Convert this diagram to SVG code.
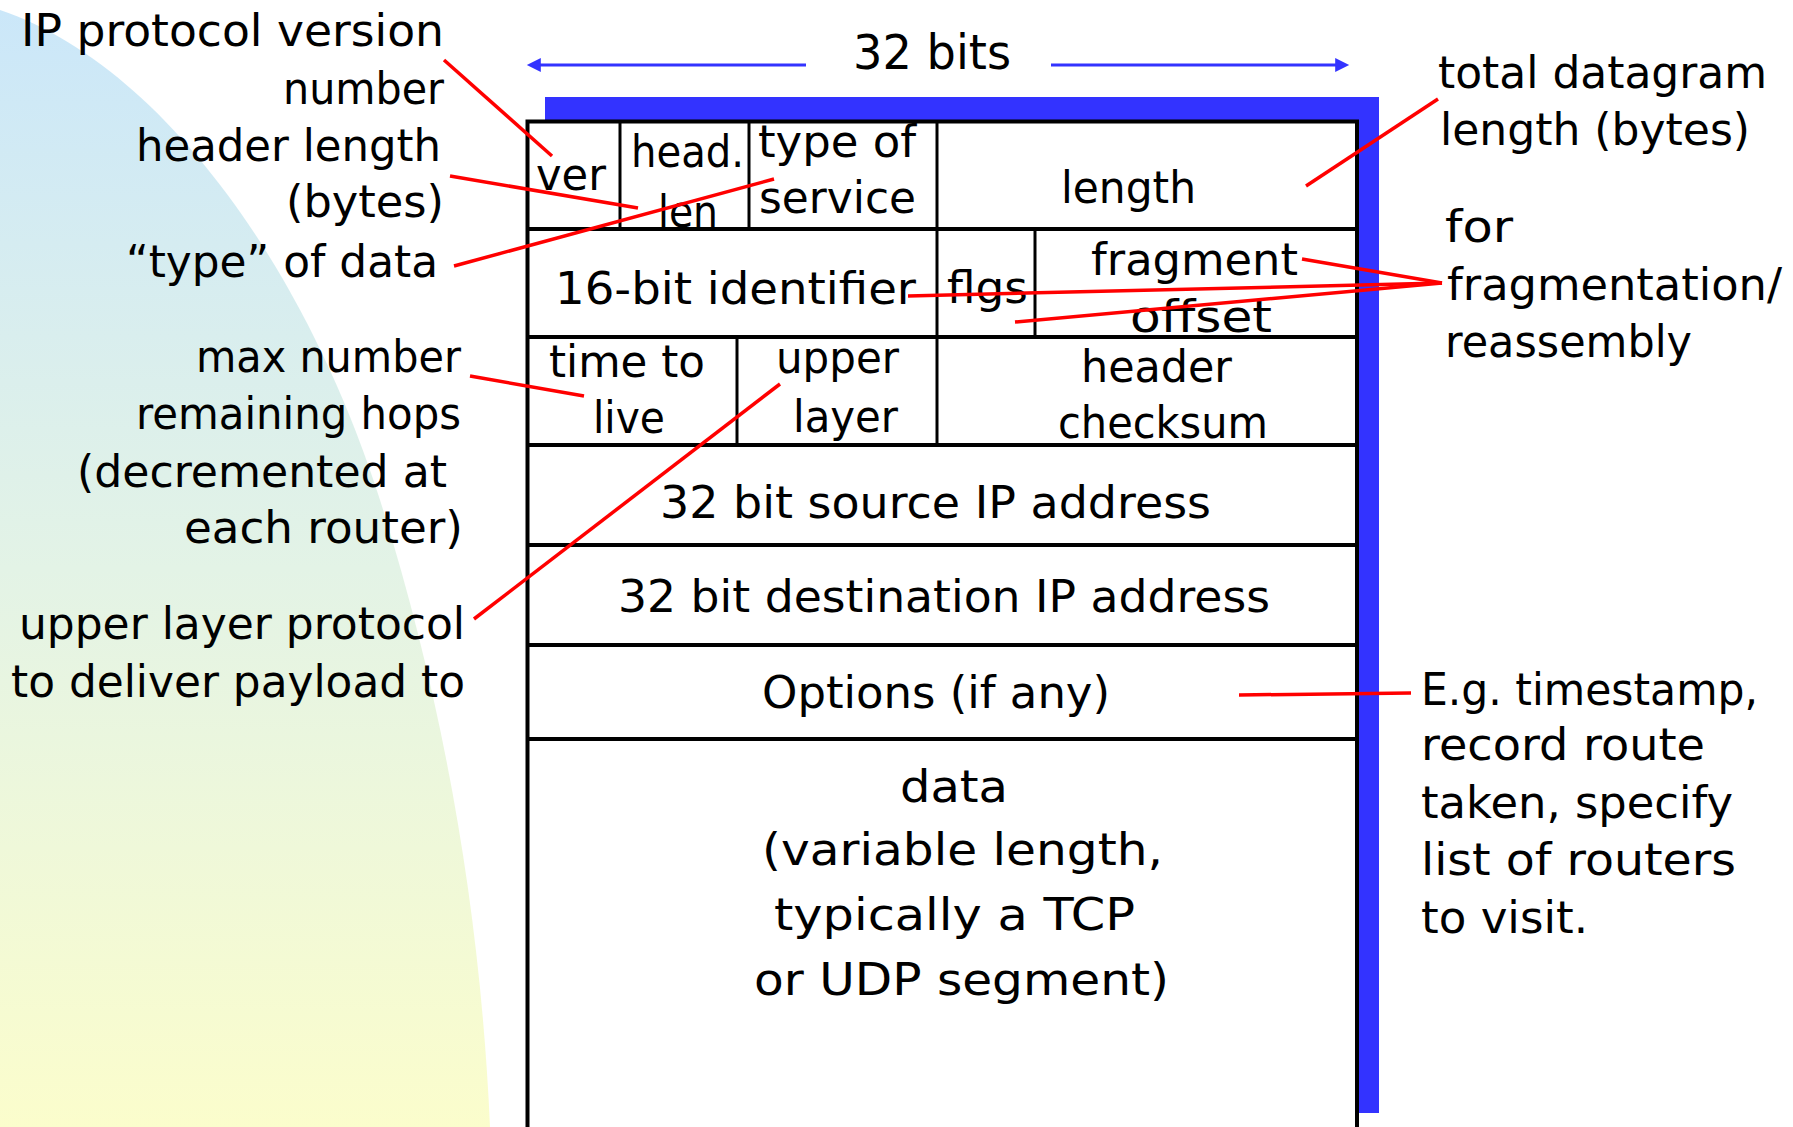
<svg xmlns="http://www.w3.org/2000/svg" width="1793" height="1127" viewBox="0 0 1793 1127">
<style>
  text { font-family: "DejaVu Sans", "Liberation Sans", sans-serif; font-size: 45px; fill: #000; }
  .big { font-size: 48px; }
  .red { stroke: #FF0000; stroke-width: 3.5; fill: none; }
  .blk { stroke: #000; stroke-width: 4; fill: none; }
  .frame { stroke: #000; stroke-width: 4; fill: #fff; }
  .thin { stroke: #000; stroke-width: 3; fill: none; }
  .arrow { stroke: #3333FF; stroke-width: 3; fill: none; }
</style>
<defs>
  <linearGradient id="bg" x1="0" y1="0" x2="0" y2="1">
    <stop offset="0" stop-color="#CBE7F9"/>
    <stop offset="0.5" stop-color="#E3F3E6"/>
    <stop offset="1" stop-color="#FBFDCC"/>
  </linearGradient>
  <marker id="ah" viewBox="0 0 10 10" refX="7" refY="5" markerWidth="15" markerHeight="14" markerUnits="userSpaceOnUse" orient="auto">
    <path d="M0,0 L10,5 L0,10 z" fill="#3333FF"/>
  </marker>
</defs>
<rect width="1793" height="1127" fill="#fff"/>
<path id="background" d="M0,10 C150,60 300,250 380,500 C440,690 480,900 490,1127 L0,1127 Z" fill="url(#bg)"/>

<g id="datagram">
  <rect x="545" y="97" width="834" height="1016" fill="#3333FF"/>
  <rect x="527.5" y="121.5" width="829.5" height="1020" class="frame"/>
  <g id="rows">
    <line class="blk" x1="527" y1="229" x2="1357" y2="229"/>
    <line class="blk" x1="527" y1="337" x2="1357" y2="337"/>
    <line class="blk" x1="527" y1="445" x2="1357" y2="445"/>
    <line class="blk" x1="527" y1="545" x2="1357" y2="545"/>
    <line class="blk" x1="527" y1="645" x2="1357" y2="645"/>
    <line class="blk" x1="527" y1="739" x2="1357" y2="739"/>
  </g>
  <g id="dividers">
    <line class="thin" x1="620" y1="121" x2="620" y2="229"/>
    <line class="thin" x1="749" y1="121" x2="749" y2="229"/>
    <line class="thin" x1="937" y1="121" x2="937" y2="229"/>
    <line class="thin" x1="937" y1="229" x2="937" y2="337"/>
    <line class="thin" x1="1035" y1="229" x2="1035" y2="337"/>
    <line class="thin" x1="737" y1="337" x2="737" y2="445"/>
    <line class="thin" x1="937" y1="337" x2="937" y2="445"/>
  </g>
</g>

<g id="field-ver"><text x="536" y="190" textLength="70" lengthAdjust="spacingAndGlyphs">ver</text></g>
<g id="field-headlen">
  <text x="631" y="167" textLength="113" lengthAdjust="spacingAndGlyphs">head.</text>
  <text x="658" y="227" textLength="60" lengthAdjust="spacingAndGlyphs">len</text>
</g>
<g id="field-tos">
  <text x="758" y="157" textLength="158" lengthAdjust="spacingAndGlyphs">type of</text>
  <text x="759" y="213" textLength="157" lengthAdjust="spacingAndGlyphs">service</text>
</g>
<g id="field-length"><text x="1061" y="203" textLength="135" lengthAdjust="spacingAndGlyphs">length</text></g>
<g id="field-identifier"><text x="555" y="304" textLength="361" lengthAdjust="spacingAndGlyphs">16-bit identifier</text></g>
<g id="field-flgs"><text x="947" y="303" textLength="81" lengthAdjust="spacingAndGlyphs">flgs</text></g>
<g id="field-fragoffset">
  <text x="1091" y="275" textLength="207" lengthAdjust="spacingAndGlyphs">fragment</text>
  <text x="1130" y="332" textLength="142" lengthAdjust="spacingAndGlyphs">offset</text>
</g>
<g id="field-ttl">
  <text x="549" y="377" textLength="156" lengthAdjust="spacingAndGlyphs">time to</text>
  <text x="593" y="433" textLength="72" lengthAdjust="spacingAndGlyphs">live</text>
</g>
<g id="field-upper">
  <text x="776" y="373" textLength="123" lengthAdjust="spacingAndGlyphs">upper</text>
  <text x="793" y="432" textLength="105" lengthAdjust="spacingAndGlyphs">layer</text>
</g>
<g id="field-checksum">
  <text x="1081" y="382" textLength="151" lengthAdjust="spacingAndGlyphs">header</text>
  <text x="1058" y="438" textLength="210" lengthAdjust="spacingAndGlyphs">checksum</text>
</g>
<g id="field-src"><text x="660" y="518" textLength="551" lengthAdjust="spacingAndGlyphs">32 bit source IP address</text></g>
<g id="field-dst"><text x="618" y="612" textLength="652" lengthAdjust="spacingAndGlyphs">32 bit destination IP address</text></g>
<g id="field-options"><text x="762" y="708" textLength="348" lengthAdjust="spacingAndGlyphs">Options (if any)</text></g>
<g id="field-data">
  <text x="900" y="802" textLength="108" lengthAdjust="spacingAndGlyphs">data</text>
  <text x="762" y="865" textLength="401" lengthAdjust="spacingAndGlyphs">(variable length,</text>
  <text x="774" y="930" textLength="361" lengthAdjust="spacingAndGlyphs">typically a TCP</text>
  <text x="754" y="995" textLength="415" lengthAdjust="spacingAndGlyphs">or UDP segment)</text>
</g>

<g id="label-32bits"><text class="big" x="853" y="69" textLength="158" lengthAdjust="spacingAndGlyphs">32 bits</text></g>

<g id="label-version">
  <text x="21" y="46" textLength="423" lengthAdjust="spacingAndGlyphs">IP protocol version</text>
  <text x="283" y="104" textLength="161" lengthAdjust="spacingAndGlyphs">number</text>
</g>
<g id="label-headerlength">
  <text x="136" y="161" textLength="305" lengthAdjust="spacingAndGlyphs">header length</text>
  <text x="286" y="217" textLength="158" lengthAdjust="spacingAndGlyphs">(bytes)</text>
</g>
<g id="label-type"><text x="126" y="277" textLength="312" lengthAdjust="spacingAndGlyphs">“type” of data</text></g>
<g id="label-ttl">
  <text x="196" y="372" textLength="265" lengthAdjust="spacingAndGlyphs">max number</text>
  <text x="136" y="429" textLength="325" lengthAdjust="spacingAndGlyphs">remaining hops</text>
  <text x="77" y="487" textLength="370" lengthAdjust="spacingAndGlyphs">(decremented at</text>
  <text x="184" y="543" textLength="279" lengthAdjust="spacingAndGlyphs">each router)</text>
</g>
<g id="label-protocol">
  <text x="19" y="639" textLength="446" lengthAdjust="spacingAndGlyphs">upper layer protocol</text>
  <text x="11" y="697" textLength="454" lengthAdjust="spacingAndGlyphs">to deliver payload to</text>
</g>
<g id="label-totallength">
  <text x="1438" y="88" textLength="329" lengthAdjust="spacingAndGlyphs">total datagram</text>
  <text x="1440" y="145" textLength="310" lengthAdjust="spacingAndGlyphs">length (bytes)</text>
</g>
<g id="label-fragmentation">
  <text x="1445" y="242" textLength="68" lengthAdjust="spacingAndGlyphs">for</text>
  <text x="1447" y="300" textLength="335" lengthAdjust="spacingAndGlyphs">fragmentation/</text>
  <text x="1445" y="357" textLength="247" lengthAdjust="spacingAndGlyphs">reassembly</text>
</g>
<g id="label-options">
  <text x="1421" y="705" textLength="337" lengthAdjust="spacingAndGlyphs">E.g. timestamp,</text>
  <text x="1421" y="760" textLength="284" lengthAdjust="spacingAndGlyphs">record route</text>
  <text x="1421" y="818" textLength="312" lengthAdjust="spacingAndGlyphs">taken, specify</text>
  <text x="1421" y="875" textLength="315" lengthAdjust="spacingAndGlyphs">list of routers</text>
  <text x="1421" y="933" textLength="167" lengthAdjust="spacingAndGlyphs">to visit.</text>
</g>

<g id="connectors">
  <line class="arrow" x1="806" y1="65" x2="531" y2="65" marker-end="url(#ah)"/>
  <line class="arrow" x1="1051" y1="65" x2="1345" y2="65" marker-end="url(#ah)"/>
  <line class="red" x1="444" y1="60" x2="552" y2="156"/>
  <line class="red" x1="450" y1="176" x2="638" y2="208"/>
  <line class="red" x1="454" y1="266" x2="774" y2="179"/>
  <line class="red" x1="470" y1="376" x2="584" y2="396"/>
  <line class="red" x1="474" y1="619" x2="780" y2="384"/>
  <line class="red" x1="1438" y1="99" x2="1306" y2="186"/>
  <line class="red" x1="1302" y1="259" x2="1442" y2="283"/>
  <line class="red" x1="908" y1="296" x2="1442" y2="283"/>
  <line class="red" x1="1015" y1="322" x2="1442" y2="283"/>
  <line class="red" x1="1239" y1="695" x2="1411" y2="693"/>
</g>
</svg>
